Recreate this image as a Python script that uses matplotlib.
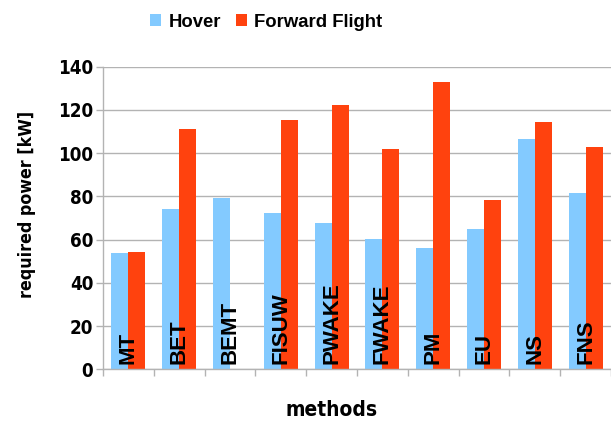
import matplotlib
matplotlib.use("Agg")
import matplotlib.pyplot as plt
import numpy as np

methods = ["MT", "BET", "BEMT", "FISUW", "PWAKE", "FWAKE", "PM", "EU", "NS", "FNS"]
hover = [53.9, 74.0, 79.3, 72.2, 67.6, 60.2, 56.1, 64.8, 106.4, 81.5]
forward_flight = [54.2, 111.0, 0.0, 115.2, 122.2, 101.8, 132.7, 78.2, 114.3, 102.7]
series_names = ["Hover", "Forward Flight"]
y_ticks = [0, 20, 40, 60, 80, 100, 120, 140]

c_hover = "#83caff"
c_ff = "#ff420e"
grid_c = "#b3b3b3"

fig = plt.figure(figsize=(6.11, 4.21), dpi=100)
ax = fig.add_axes([0.1686, 0.1228, 0.8314, 0.7188])

x = np.arange(len(methods))
w = 0.333
ax.bar(x - w / 2, hover, width=w, color=c_hover, label=series_names[0], zorder=2)
ax.bar(x + w / 2, forward_flight, width=w, color=c_ff, label=series_names[1], zorder=2)

ax.set_xlim(-0.5, len(methods) - 0.5)
ax.set_ylim(0, 140)
ax.set_yticks(y_ticks)
ax.set_yticklabels([str(t) for t in y_ticks], fontsize=13.5, fontweight="bold",
                   fontstretch="condensed", family="DejaVu Sans")
ax.yaxis.grid(True, color=grid_c, linewidth=1.0, zorder=0)
ax.set_axisbelow(True)

# category boundaries as outward ticks below the axis
ax.set_xticks(np.arange(-0.5, len(methods)), minor=False)
ax.set_xticklabels([])
ax.tick_params(axis="x", length=5, color=grid_c, width=1)
ax.tick_params(axis="y", length=5, color=grid_c, width=1, pad=2)

for s in ["top", "right"]:
    ax.spines[s].set_visible(False)
for s in ["left", "bottom"]:
    ax.spines[s].set_color(grid_c)
    ax.spines[s].set_linewidth(1.0)

# method names written upright inside the bar groups
for xi, name in zip(x, methods):
    ax.text(xi, 2.3, name, rotation=90, ha="center", va="bottom",
            fontsize=16, fontweight="bold", family="Liberation Sans", zorder=3)

ax.set_ylabel("required power [kW]", fontsize=12.8, fontweight="bold",
              fontstretch="condensed", family="DejaVu Sans")
ax.yaxis.set_label_coords(-0.132, 0.546)
fig.text(332 / 611, 1 - 410 / 421, "methods", ha="center", va="center",
         fontsize=15, fontweight="bold", fontstretch="condensed", family="DejaVu Sans")

leg = fig.legend(loc="upper center", bbox_to_anchor=(266 / 611, 1.0), ncol=2, frameon=False,
                 prop={"family": "Liberation Sans", "weight": "bold", "size": 13.3},
                 handlelength=0.6, handleheight=0.6, handletextpad=0.4, columnspacing=0.8,
                 borderaxespad=0.35)

fig.savefig("out.png", dpi=100)
